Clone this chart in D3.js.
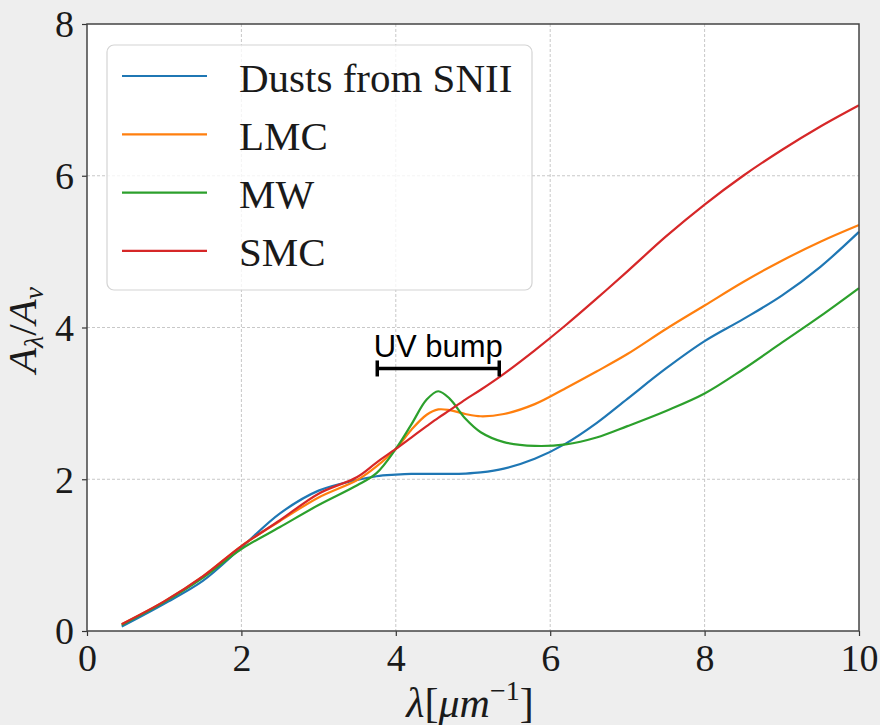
<!DOCTYPE html>
<html>
<head>
<meta charset="utf-8">
<script src="https://cdn.jsdelivr.net/npm/d3@7"></script>
<style>
  html, body { margin: 0; padding: 0; background: #eeeeee; }
  svg { display: block; }
</style>
</head>
<body>
<svg id="chart" width="880" height="725"></svg>
<script>
// ---- data ----
const xGrid = [0.45, 1, 1.5, 2, 2.5, 3, 3.5, 3.75, 4, 4.2, 4.4, 4.55, 4.7, 4.9, 5.1, 5.4, 5.8, 6.2, 6.6, 7, 7.5, 8, 8.5, 9, 9.5, 10];
const snii = [0.06, 0.36, 0.66, 1.10, 1.55, 1.85, 1.99, 2.04, 2.06, 2.07, 2.07, 2.07, 2.07, 2.075, 2.09, 2.14, 2.27, 2.47, 2.74, 3.06, 3.46, 3.82, 4.11, 4.42, 4.80, 5.26];
const lmc  = [0.09, 0.39, 0.72, 1.12, 1.45, 1.76, 1.99, 2.17, 2.40, 2.65, 2.85, 2.92, 2.91, 2.86, 2.83, 2.86, 2.99, 3.20, 3.42, 3.65, 3.98, 4.29, 4.60, 4.88, 5.13, 5.35];
const mw   = [0.08, 0.38, 0.70, 1.08, 1.37, 1.66, 1.92, 2.08, 2.40, 2.72, 3.05, 3.16, 3.06, 2.80, 2.62, 2.49, 2.44, 2.46, 2.55, 2.70, 2.90, 3.13, 3.45, 3.80, 4.15, 4.52];
const smc  = [0.09, 0.39, 0.72, 1.12, 1.46, 1.81, 2.03, 2.22, 2.40, 2.55, 2.70, 2.81, 2.91, 3.05, 3.18, 3.39, 3.70, 4.03, 4.38, 4.74, 5.20, 5.62, 6.00, 6.34, 6.65, 6.93];
const seriesNames = ["Dusts from SNII", "LMC", "MW", "SMC"];
const seriesColors = ["#1f77b4", "#ff7f0e", "#2ca02c", "#d62728"];
const xTicks = [0, 2, 4, 6, 8, 10];
const yTicks = [0, 2, 4, 6, 8];
const bumpRange = [3.76, 5.34];
const bumpY = [3.46];
const bumpLabel = ["UV bump"];

// ---- layout ----
const svg = d3.select("#chart");
const m = { left: 87, right: 859, top: 24, bottom: 631 };
const x = d3.scaleLinear().domain([0, 10]).range([m.left, m.right]);
const y = d3.scaleLinear().domain([0, 8]).range([m.bottom, m.top]);
const serif = "'Liberation Serif', 'Times New Roman', serif";

svg.append("rect").attr("width", 880).attr("height", 725).attr("fill", "#eeeeee");
svg.append("rect").attr("x", m.left).attr("y", m.top)
  .attr("width", m.right - m.left).attr("height", m.bottom - m.top).attr("fill", "#ffffff");

// grid
const grid = svg.append("g");
grid.selectAll(".gx").data(xTicks.slice(1, -1)).enter().append("line")
  .attr("x1", d => x(d)).attr("x2", d => x(d)).attr("y1", m.top).attr("y2", m.bottom)
  .attr("stroke", "#c8c8c8").attr("stroke-width", 1).attr("stroke-dasharray", "3,2");
grid.selectAll(".gy").data(yTicks.slice(1, -1)).enter().append("line")
  .attr("y1", d => y(d)).attr("y2", d => y(d)).attr("x1", m.left).attr("x2", m.right)
  .attr("stroke", "#c8c8c8").attr("stroke-width", 1).attr("stroke-dasharray", "3,2");

// lines
const allSeries = [snii, lmc, mw, smc];
const line = d3.line().x(d => x(d[0])).y(d => y(d[1])).curve(d3.curveCatmullRom.alpha(0.5));
allSeries.forEach((vals, i) => {
  svg.append("path")
    .datum(xGrid.map((xv, j) => [xv, vals[j]]))
    .attr("d", line).attr("fill", "none")
    .attr("stroke", seriesColors[i]).attr("stroke-width", 2.2)
    .attr("stroke-linejoin", "round").attr("stroke-linecap", "butt");
});

// axes
const xAxis = d3.axisBottom(x).tickValues(xTicks).tickSize(5).tickPadding(8).tickFormat(d3.format("d"));
const yAxis = d3.axisLeft(y).tickValues(yTicks).tickSize(5).tickPadding(8).tickFormat(d3.format("d"));
const gx = svg.append("g").attr("transform", `translate(0,${m.bottom})`).call(xAxis);
const gy = svg.append("g").attr("transform", `translate(${m.left},0)`).call(yAxis);
[gx, gy].forEach(g => {
  g.select(".domain").remove();
  g.selectAll(".tick line").attr("stroke", "#333").attr("stroke-width", 1.2);
  g.selectAll(".tick text").attr("fill", "#1a1a1a").style("font-family", serif).style("font-size", "38px");
});
gx.selectAll(".tick text").attr("dy", "0.72em");
gy.selectAll(".tick text").attr("dy", "0.34em");

// frame
svg.append("rect").attr("x", m.left).attr("y", m.top)
  .attr("width", m.right - m.left).attr("height", m.bottom - m.top)
  .attr("fill", "none").attr("stroke", "#444").attr("stroke-width", 1.5);

// axis labels
const xl = svg.append("text").attr("x", 470).attr("y", 717).attr("text-anchor", "middle")
  .style("font-family", serif).style("font-size", "42px").attr("fill", "#1a1a1a");
xl.append("tspan").style("font-style", "italic").text("λ");
xl.append("tspan").text("[");
xl.append("tspan").style("font-style", "italic").text("μm");
xl.append("tspan").attr("dy", -17).style("font-size", "28px").text("−1");
xl.append("tspan").attr("dy", 17).text("]");

const yl = svg.append("text").attr("transform", "translate(36,330) rotate(-90)").attr("text-anchor", "middle")
  .style("font-family", serif).style("font-size", "41px").attr("fill", "#1a1a1a");
yl.append("tspan").style("font-style", "italic").text("A");
yl.append("tspan").attr("dy", 7).style("font-size", "28px").style("font-style", "italic").text("λ");
yl.append("tspan").attr("dy", -7).text("/");
yl.append("tspan").style("font-style", "italic").text("A");
yl.append("tspan").attr("dy", 7).style("font-size", "28px").style("font-style", "italic").text("v");

// UV bump annotation
const bump = svg.append("g");
const by = y(bumpY[0]);
bump.append("line").attr("x1", x(bumpRange[0])).attr("x2", x(bumpRange[1]))
  .attr("y1", by).attr("y2", by).attr("stroke", "#000").attr("stroke-width", 3.5);
bumpRange.forEach(v => {
  bump.append("line").attr("x1", x(v)).attr("x2", x(v)).attr("y1", by - 8).attr("y2", by + 8)
    .attr("stroke", "#000").attr("stroke-width", 3.5);
});
bump.append("text").attr("x", x((bumpRange[0] + bumpRange[1]) / 2)).attr("y", by - 11)
  .attr("text-anchor", "middle").style("font-family", "'Liberation Sans', Arial, sans-serif")
  .style("font-size", "31px").attr("fill", "#000").text(bumpLabel[0]);

// legend
const lg = svg.append("g");
lg.append("rect").attr("x", 107).attr("y", 45).attr("width", 425).attr("height", 245)
  .attr("rx", 7).attr("ry", 7).attr("fill", "rgba(255,255,255,0.8)")
  .attr("stroke", "#d4d4d4").attr("stroke-width", 1.2);
seriesNames.forEach((name, i) => {
  const ly = 76 + i * 58.3;
  lg.append("line").attr("x1", 122).attr("x2", 207).attr("y1", ly).attr("y2", ly)
    .attr("stroke", seriesColors[i]).attr("stroke-width", 2.2);
  lg.append("text").attr("x", 239).attr("y", ly + 15.5)
    .style("font-family", serif).style("font-size", "41px").attr("fill", "#1a1a1a").text(name);
});
</script>
</body>
</html>
